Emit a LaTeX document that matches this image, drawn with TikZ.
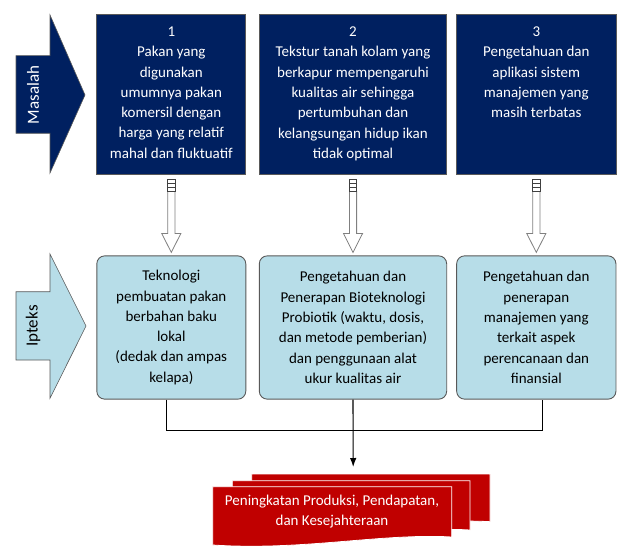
\documentclass[tikz,border=0pt]{standalone}
\usepackage{fontspec}
\setmainfont{Carlito}
\usetikzlibrary{arrows.meta,positioning,calc}
\definecolor{masnavy}{RGB}{0,32,96}
\definecolor{iptblue}{RGB}{183,221,232}
\definecolor{hasilred}{RGB}{192,0,0}
\definecolor{edgegray}{RGB}{89,89,89}

\begin{document}
\begin{tikzpicture}[x=1pt, y=-1pt,
  every node/.style={font=\fontsize{15}{20.3}\selectfont, align=center, inner sep=0pt},
  masbox/.style={draw=edgegray, fill=masnavy, line width=0.8pt, minimum height=160pt},
  iptbox/.style={draw=edgegray, fill=iptblue, line width=0.9pt, rounded corners=8pt, minimum height=143.3pt},
  sidelabel/.style={rotate=90, font=\fontsize{17}{20}\selectfont},
  hollow/.style={draw=gray, fill=white, line width=0.8pt},
  sheet/.style={fill=hasilred, draw=white, line width=0.8pt},
  link/.style={line width=1.1pt}]
  \useasboundingbox (0,0) rectangle (617,545);
  \filldraw[fill=masnavy, draw=edgegray, line width=0.6pt] (16,55.7) -- (50,55.7) -- (50,15) -- (85,95) -- (50,173) -- (50,133.3) -- (16,133.3) -- cycle;
  \node[sidelabel, text=white] (masalah) at (33,95) {Masalah};
  \filldraw[fill=iptblue, draw=edgegray, line width=0.6pt] (16,291.7) -- (50,291.7) -- (50,254) -- (86,326) -- (50,398.3) -- (50,360) -- (16,360) -- cycle;
  \node[sidelabel] (ipteks) at (33,326) {Ipteks};
  \node[masbox, minimum width=149pt] (m1) at (171.3,94) {};
  \node[masbox, minimum width=187.4pt] (m2) at (353,94) {};
  \node[masbox, minimum width=159.3pt] (m3) at (536.3,94) {};
  \node[text=white, below=13pt of m1.north] (t1) {1\\Pakan yang\\digunakan\\umumnya pakan\\komersil dengan\\harga yang relatif\\mahal dan fluktuatif};
  \node[text=white, below=13pt of m2.north] (t2) {2\\Tekstur tanah kolam yang\\berkapur mempengaruhi\\kualitas air sehingga\\pertumbuhan dan\\kelangsungan hidup ikan\\tidak optimal};
  \node[text=white, below=13pt of m3.north] (t3) {3\\Pengetahuan dan\\aplikasi sistem\\manajemen yang\\masih terbatas};
  \node[iptbox, minimum width=149pt, below=81pt of m1] (i1) {Teknologi\\pembuatan pakan\\berbahan baku\\lokal\\(dedak dan ampas\\kelapa)};
  \node[iptbox, minimum width=187.4pt, below=81pt of m2] (i2) {Pengetahuan dan\\Penerapan Bioteknologi\\Probiotik (waktu, dosis,\\dan metode pemberian)\\dan penggunaan alat\\ukur kualitas air};
  \node[iptbox, minimum width=159.3pt, below=81pt of m3] (i3) {Pengetahuan dan\\penerapan\\manajemen yang\\terkait aspek\\perencanaan dan\\finansial};
  \foreach \i in {1,2,3} {
    \draw[hollow] ($(m\i.south)+(-3.6,17)$) -- ++(0,42) -- ++(-6,0) -- ($(i\i.north)+(0,-3)$) -- ($(m\i.south)+(9.6,59)$) -- ++(-6,0) -- ++(0,-42) -- cycle;
    \draw[hollow, draw=black!75] ($(m\i.south)+(-3.6,5)$) rectangle ($(m\i.south)+(3.6,17)$);
    \draw[black!75, line width=0.7pt] ($(m\i.south)+(-3.6,9)$) -- ++(7.2,0) ($(m\i.south)+(-3.6,12.5)$) -- ++(7.2,0);
  }
  \foreach \xa/\ya/\xb/\yb in {251.7/474/490/521.7, 232.3/480.7/470/530, 212.7/486.7/451.7/537}
    \filldraw[sheet] (\xa,\ya) -- (\xb,\ya) -- (\xb,\yb) .. controls +(-70,-4) and +(90,6) .. (\xa,{\yb+8}) -- cycle;
  \node[text=white] (hasil) at (332,511.5) {Peningkatan Produksi, Pendapatan,\\dan Kesejahteraan};
  \coordinate (tip) at (353.2,467);
  \draw[link] ([xshift=-5pt]i1.south) -- ++(0,31) -| ([xshift=6pt]i3.south);
  \draw[link, -{Latex[length=9pt,width=6.5pt]}] (i2.south) -- (tip);
\end{tikzpicture}
\end{document}
